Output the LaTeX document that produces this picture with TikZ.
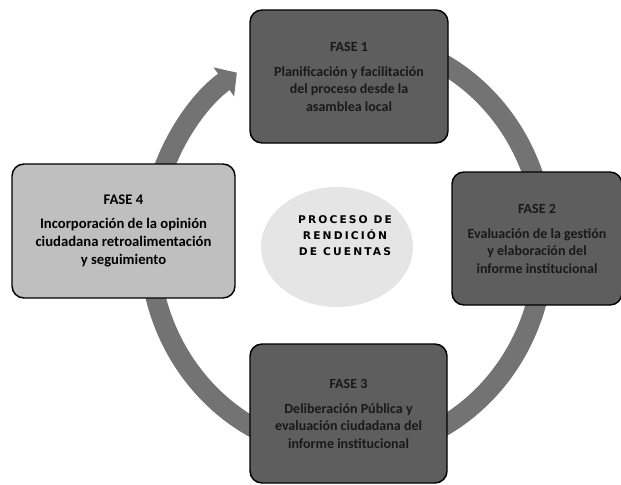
\documentclass[tikz,border=0pt]{standalone}
\usepackage{fontspec}
\setmainfont{Carlito}
\newfontfamily\titlefont{DejaVu Sans}[LetterSpace=20, BoldFont={DejaVu Sans Bold}]
\usepackage{tikz}
\usetikzlibrary{positioning,calc,arrows.meta,backgrounds}

\tikzset{
  fase/.style={draw=black, line width=1.1pt, rounded corners=9pt, fill=black!63, text=black!90,
    align=center, inner sep=2pt, font=\bfseries\fontsize{10.5}{13}\selectfont},
  faseclara/.style={fase, fill=black!25, text=black, font=\bfseries\fontsize{11}{13.5}\selectfont},
  ring/.style={draw=black!55, line width=15pt},
}

\begin{document}
\begin{tikzpicture}[x=0.75pt,y=0.75pt,yscale=-1,xscale=1]
\useasboundingbox (0,0) rectangle (621,485);

%Shape: Ellipse [centre]
\fill[black!10] (337,247) ellipse [x radius=76, y radius=60];

% Text Node
\node[font=\titlefont\bfseries\fontsize{8}{12}\selectfont, align=center] (centro) at (345,236) {PROCESO DE\\RENDICIÓN\\DE CUENTAS};

% Fases
\node[fase, minimum width=148.5pt, minimum height=99.75pt] (f1) at (349,76.5)
  {FASE 1\\[6pt]Planificación y facilitación\\del proceso desde la\\asamblea local};
\node[fase, minimum width=127.5pt, minimum height=99.75pt] (f2) at (537,238.5)
  {FASE 2\\[6pt]Evaluación de la gestión\\y elaboración del\\informe institucional};
\node[fase, minimum width=147.75pt, minimum height=104.25pt] (f3) at (348.5,413.5)
  {FASE 3\\[6pt]Deliberación Pública y\\evaluación ciudadana del\\informe institucional};
\node[faseclara, minimum width=167.25pt, minimum height=100.5pt] (f4) at (123.5,231)
  {FASE 4\\[4pt]Incorporación de la opinión\\ciudadana retroalimentación\\y seguimiento};

%Curve Lines [ring]
\begin{scope}[on background layer]
\draw[ring, -{Triangle[length=12pt,width=26pt]}] (f4.north) ++(38.4,10.2)
  arc [start angle=200, end angle=236, x radius=197, y radius=207];
\draw[ring] (f1.east) ++(-17.7,-19.1) arc [start angle=295, end angle=350, x radius=197, y radius=207];
\draw[ring] (f2.south) ++(4,-24) arc [start angle=10, end angle=75, x radius=197, y radius=207];
\draw[ring] (f3.west) ++(46,31.5) arc [start angle=105, end angle=170, x radius=197, y radius=207];
\end{scope}

\end{tikzpicture}
\end{document}
